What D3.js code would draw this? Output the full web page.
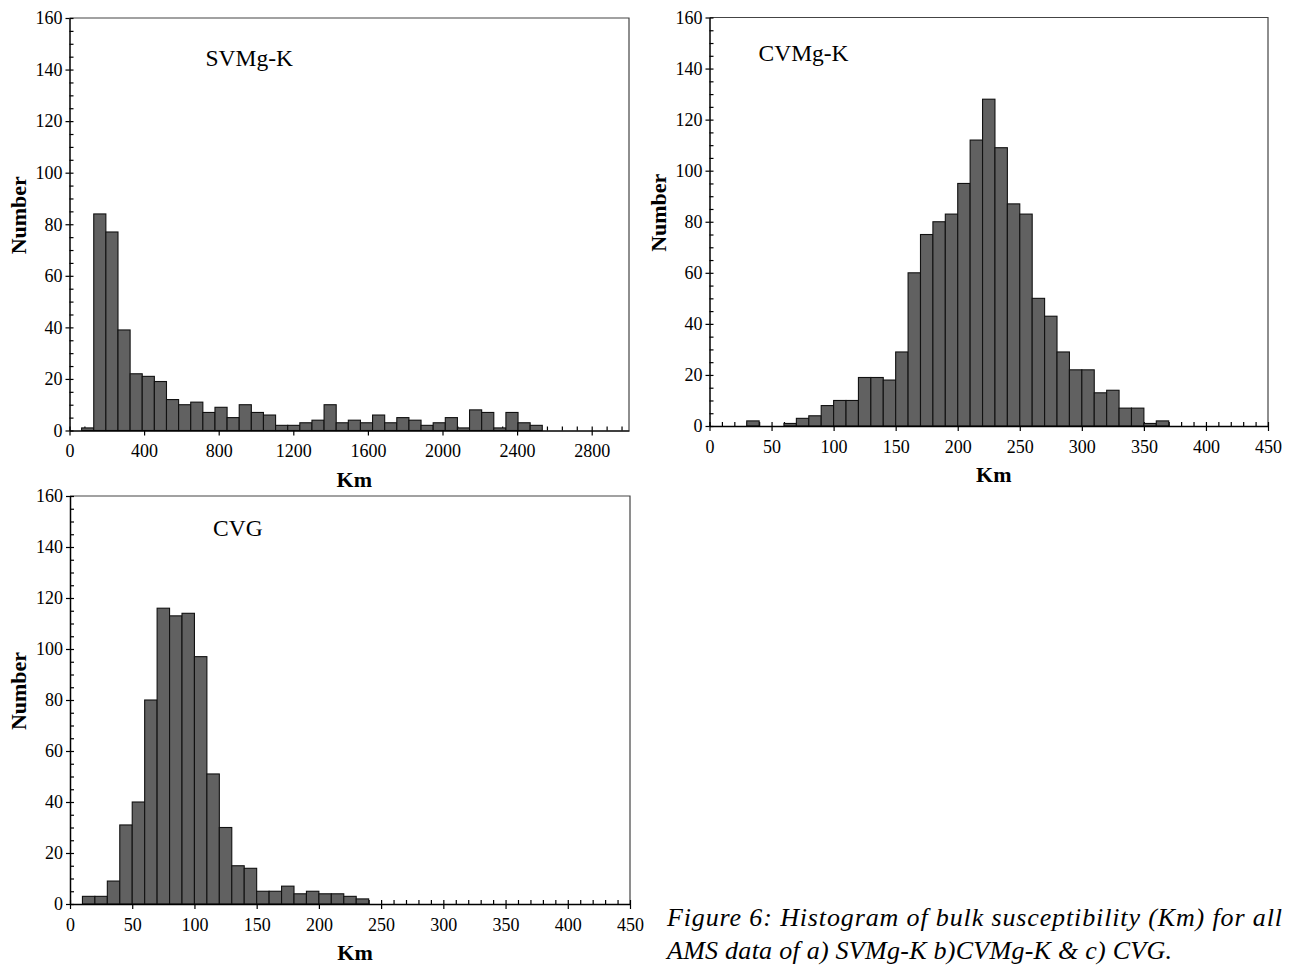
<!DOCTYPE html>
<html>
<head>
<meta charset="utf-8">
<script src="https://cdn.jsdelivr.net/npm/d3@7"></script>
<style>
  body { margin: 0; background: #fff; }
  svg { display: block; }
  .tick text { font-family: "Liberation Serif", "Times New Roman", serif; font-size: 18px; fill: #000; }
</style>
</head>
<body>
<div id="my_dataviz"></div>
<script>

// histogram counts
var svmgBinStart = 65, svmgBinWidth = 65;
var svmgCounts = [1, 84, 77, 39, 22, 21, 19, 12, 10, 11, 7, 9, 5, 10, 7, 6, 2, 2, 3, 4,
                  10, 3, 4, 3, 6, 3, 5, 4, 2, 3, 5, 1, 8, 7, 1, 7, 3, 2];

var cvmgBinStart = 30, cvmgBinWidth = 10;
var cvmgCounts = [2, 0, 0, 1, 3, 4, 8, 10, 10, 19, 19, 18, 29, 60, 75, 80, 83, 95, 112, 128,
                  109, 87, 83, 50, 43, 29, 22, 22, 13, 14, 7, 7, 1, 2];

var cvgBinStart = 10, cvgBinWidth = 10;
var cvgCounts = [3, 3, 9, 31, 40, 80, 116, 113, 114, 97, 51, 30, 15, 14, 5, 5, 7, 4, 5, 4, 4, 3, 2];

// axis ticks
var yTicks = [0, 20, 40, 60, 80, 100, 120, 140, 160];
var svmgXTicks = [0, 400, 800, 1200, 1600, 2000, 2400, 2800];
var kmXTicks = [0, 50, 100, 150, 200, 250, 300, 350, 400, 450];

var titleA = "SVMg-K", titleB = "CVMg-K", titleC = "CVG";
var xTitle = "Km", yTitle = "Number";
var captionLines = ["Figure 6: Histogram of bulk susceptibility (Km) for all",
                    "AMS data of a) SVMg-K b)CVMg-K & c) CVG."];

var svg = d3.select("#my_dataviz")
  .append("svg")
    .attr("width", 1293)
    .attr("height", 965);

var serif = "'Liberation Serif', 'Times New Roman', serif";

function drawPanel(p) {
  var x = d3.scaleLinear().domain(p.xDomain).range([p.left, p.right]);
  var y = d3.scaleLinear().domain([0, 160]).range([p.bottom, p.top]);

  var g = svg.append("g");

  // frame (top + right)
  g.append("path")
    .attr("d", "M" + p.left + "," + p.top + "H" + p.right + "V" + p.bottom)
    .attr("fill", "none")
    .attr("stroke", "#444")
    .attr("stroke-width", 1.2);

  // minor ticks point inside
  g.append("g")
    .attr("transform", "translate(0," + p.bottom + ")")
    .call(d3.axisBottom(x).tickValues(d3.range(p.xDomain[0], p.xDomain[1] + 1e-6, p.xMinor)).tickSize(-4).tickFormat(""))
    .call(function(a) { a.select(".domain").remove(); a.selectAll("line").attr("stroke-width", 1.2); });
  g.append("g")
    .attr("transform", "translate(" + p.left + ",0)")
    .call(d3.axisLeft(y).tickValues(d3.range(0, 161, 5)).tickSize(-4).tickFormat(""))
    .call(function(a) { a.select(".domain").remove(); a.selectAll("line").attr("stroke-width", 1.2); });

  // bars
  var bins = p.counts.map(function(c, i) {
    return { x0: p.binStart + i * p.binWidth, x1: p.binStart + (i + 1) * p.binWidth, n: c };
  }).filter(function(d) { return d.n > 0; });

  g.selectAll("rect.bar")
    .data(bins)
    .enter()
    .append("rect")
      .attr("class", "bar")
      .attr("x", function(d) { return x(d.x0); })
      .attr("width", function(d) { return x(d.x1) - x(d.x0); })
      .attr("y", function(d) { return y(d.n); })
      .attr("height", function(d) { return y(0) - y(d.n); })
      .attr("fill", "#616161")
      .attr("stroke", "#111")
      .attr("stroke-width", 1.1);

  // major ticks point outside
  g.append("g")
    .attr("transform", "translate(0," + p.bottom + ")")
    .call(d3.axisBottom(x).tickValues(p.xTicks).tickSize(5).tickSizeOuter(0).tickPadding(9).tickFormat(d3.format("d")))
    .call(function(a) { a.select(".domain").attr("stroke-width", 1.5); a.selectAll("line").attr("stroke-width", 1.2); });
  g.append("g")
    .attr("transform", "translate(" + p.left + ",0)")
    .call(d3.axisLeft(y).tickValues(yTicks).tickSize(4).tickSizeOuter(0).tickPadding(3))
    .call(function(a) { a.select(".domain").attr("stroke-width", 1.5); a.selectAll("line").attr("stroke-width", 1.2); });

  // titles
  g.append("text")
    .attr("x", (p.left + p.right) / 2 + 5)
    .attr("y", p.bottom + 56)
    .attr("text-anchor", "middle")
    .style("font-family", serif)
    .style("font-weight", "bold")
    .style("font-size", "22px")
    .text(xTitle);

  g.append("text")
    .attr("transform", "translate(" + (p.left - 44) + "," + ((p.top + p.bottom) / 2 - 9) + ") rotate(-90)")
    .attr("text-anchor", "middle")
    .style("font-family", serif)
    .style("font-weight", "bold")
    .style("font-size", "22px")
    .text(yTitle);

  g.append("text")
    .attr("x", p.left + p.titleDx)
    .attr("y", p.top + p.titleDy)
    .style("font-family", serif)
    .style("font-size", "23.5px")
    .text(p.title);
}

drawPanel({ left: 69.5, right: 629, top: 18, bottom: 430.5, xDomain: [0, 3000], xTicks: svmgXTicks, xMinor: 80,
            binStart: svmgBinStart, binWidth: svmgBinWidth, counts: svmgCounts, title: titleA, titleDx: 136, titleDy: 47.5 });
drawPanel({ left: 709.5, right: 1268, top: 17.5, bottom: 426, xDomain: [0, 450], xTicks: kmXTicks, xMinor: 10,
            binStart: cvmgBinStart, binWidth: cvmgBinWidth, counts: cvmgCounts, title: titleB, titleDx: 49, titleDy: 43 });
drawPanel({ left: 70, right: 630, top: 496, bottom: 904, xDomain: [0, 450], xTicks: kmXTicks, xMinor: 10,
            binStart: cvgBinStart, binWidth: cvgBinWidth, counts: cvgCounts, title: titleC, titleDx: 143, titleDy: 40 });

// caption
svg.append("text")
  .attr("x", 667)
  .attr("y", 926)
  .attr("textLength", 615)
  .attr("lengthAdjust", "spacing")
  .style("font-family", serif)
  .style("font-style", "italic")
  .style("font-size", "26px")
  .text(captionLines[0]);
svg.append("text")
  .attr("x", 667)
  .attr("y", 959)
  .attr("textLength", 505)
  .attr("lengthAdjust", "spacing")
  .style("font-family", serif)
  .style("font-style", "italic")
  .style("font-size", "26px")
  .text(captionLines[1]);

</script>
</body>
</html>
